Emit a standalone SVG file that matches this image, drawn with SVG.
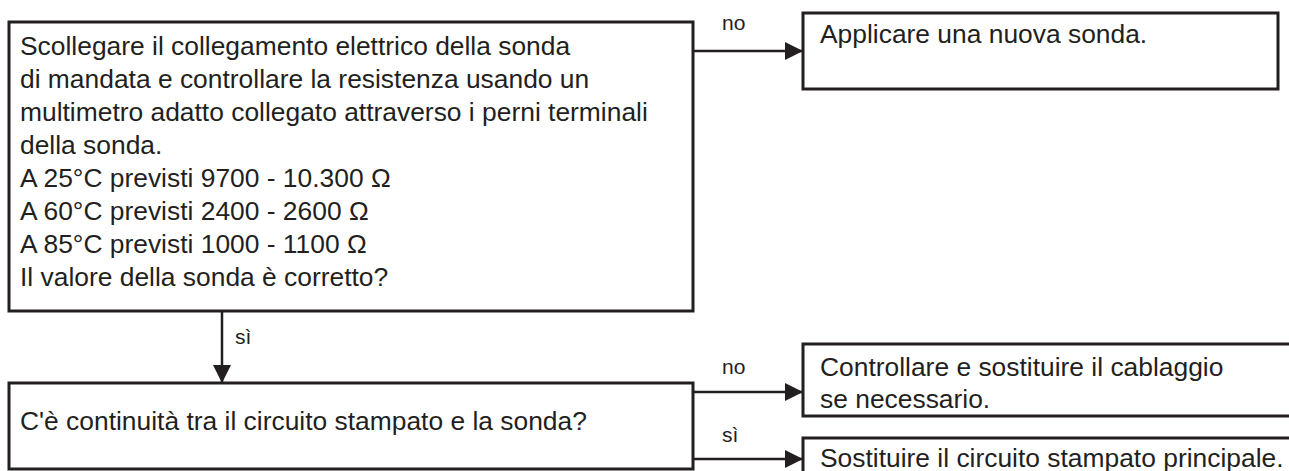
<svg xmlns="http://www.w3.org/2000/svg" width="1289" height="471" viewBox="0 0 1289 471">
<defs>
<marker id="arr" viewBox="0 0 18 18" refX="18" refY="9" markerWidth="18" markerHeight="18" markerUnits="userSpaceOnUse" orient="auto">
<path d="M0,0 L18,9 L0,18 Z" fill="#231f20"/>
</marker>
<style>
.box{fill:#fff;stroke:#231f20;stroke-width:3}
.t{font-family:"Liberation Sans",Arial,sans-serif;font-size:26.4px;fill:#231f20}
.lbl{font-family:"Liberation Sans",Arial,sans-serif;font-size:21px;fill:#231f20}
.ln{fill:none;stroke:#231f20;stroke-width:2.5}
</style>
</defs>
<rect width="1289" height="471" fill="#fff"/>
<g id="connectors">
<line class="ln" x1="693" y1="51" x2="803" y2="51" marker-end="url(#arr)"/>
<text class="lbl" x="722" y="30">no</text>
<line class="ln" x1="222" y1="311" x2="222" y2="383" marker-end="url(#arr)"/>
<text class="lbl" x="235" y="344">sì</text>
<line class="ln" x1="693" y1="392" x2="803" y2="392" marker-end="url(#arr)"/>
<text class="lbl" x="722" y="374">no</text>
<line class="ln" x1="693" y1="459" x2="803" y2="459" marker-end="url(#arr)"/>
<text class="lbl" x="722" y="442">sì</text>
</g>
<g id="n1">
<rect class="box" x="9" y="22" width="684" height="289"/>
<text class="t" x="20" y="55">Scollegare il collegamento elettrico della sonda</text>
<text class="t" x="20" y="88">di mandata e controllare la resistenza usando un</text>
<text class="t" x="20" y="121">multimetro adatto collegato attraverso i perni terminali</text>
<text class="t" x="20" y="154">della sonda.</text>
<text class="t" x="20" y="187">A 25°C previsti 9700 - 10.300 Ω</text>
<text class="t" x="20" y="220">A 60°C previsti 2400 - 2600 Ω</text>
<text class="t" x="20" y="253">A 85°C previsti 1000 - 1100 Ω</text>
<text class="t" x="20" y="286">Il valore della sonda è corretto?</text>
</g>
<g id="n2">
<rect class="box" x="803" y="13" width="475" height="76"/>
<text class="t" x="820" y="43">Applicare una nuova sonda.</text>
</g>
<g id="n3">
<rect class="box" x="9" y="383" width="684" height="86"/>
<text class="t" x="20" y="430">C'è continuità tra il circuito stampato e la sonda?</text>
</g>
<g id="n4">
<rect class="box" x="803" y="344" width="500" height="72"/>
<text class="t" x="820" y="376">Controllare e sostituire il cablaggio</text>
<text class="t" x="820" y="408">se necessario.</text>
</g>
<g id="n5">
<rect class="box" x="803" y="438" width="500" height="60"/>
<text class="t" x="820" y="467">Sostituire il circuito stampato principale.</text>
</g>
</svg>
